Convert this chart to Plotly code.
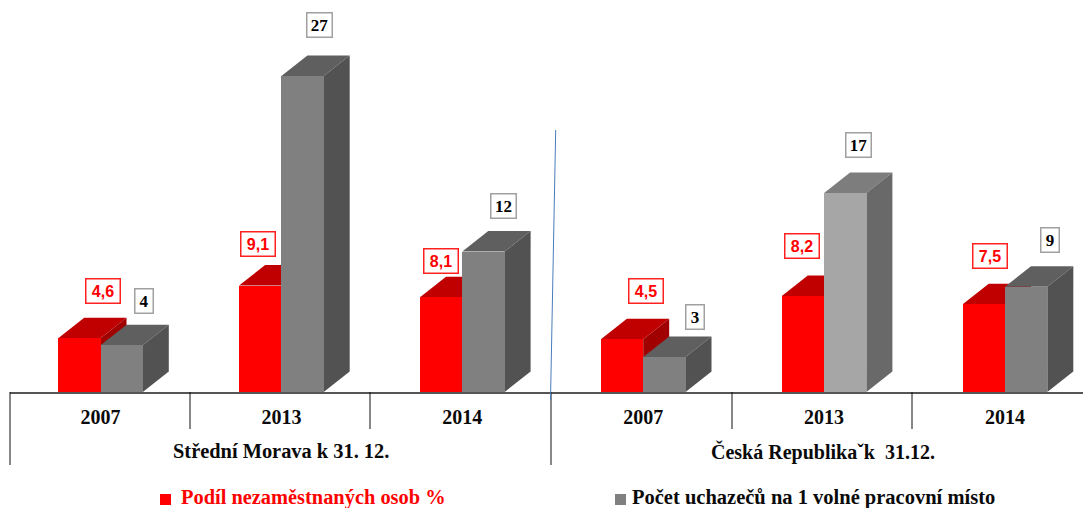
import plotly.graph_objects as go

years = ["2007", "2013", "2014", "2007", "2013", "2014"]
group_names = ["Střední Morava k 31. 12.", "Česká Republikaˇk  31.12."]
series_names = ["Podíl nezaměstnaných osob %", "Počet uchazečů na 1 volné pracovní místo"]
unemployment = [4.6, 9.1, 8.1, 4.5, 8.2, 7.5]
applicants = [4, 27, 12, 3, 17, 9]

W, H = 1083, 508
AXIS_L, AXIS_Y = 10, 392
PX_PER_VALUE = 11.7
PX_PER_CAT = 180.9
FIRST_CENTER = 100.5
BAR_PX = 42.3
DEPTH_X, DEPTH_Y = 26, 20.5
SERIF = "Liberation Serif"
SANS = "Liberation Sans"

def xd(px):
    return (px - FIRST_CENTER) / PX_PER_CAT
def xp(px):
    return (px - AXIS_L) / (W - AXIS_L)
def yp(py):
    return (AXIS_Y - py) / AXIS_Y

bw = BAR_PX / PX_PER_CAT
dx = DEPTH_X / PX_PER_CAT
dy = DEPTH_Y / PX_PER_VALUE
xs = list(range(len(years)))

RED = dict(front="#ff0000", top="#c00000", side="#a00000")
GRAY = dict(front="#808080", top="#5f5f5f", side="#525252")
LIGHT = dict(front="#a6a6a6", top="#7d7d7d", side="#696969")
gray_styles = [GRAY, GRAY, GRAY, GRAY, LIGHT, GRAY]

shapes = []
def poly(points, color):
    path = "M " + " L ".join(f"{a},{b}" for a, b in points) + " Z"
    shapes.append(dict(type="path", path=path, xref="x", yref="y", layer="below",
                       fillcolor=color, line=dict(width=0)))

for i, v in enumerate(unemployment):
    a, b = i - bw, i
    poly([(a, v), (a + dx, v + dy), (b + dx, v + dy), (b, v)], RED["top"])
    poly([(b, 0), (b + dx, dy), (b + dx, v + dy), (b, v)], RED["side"])
for i, v in enumerate(applicants):
    a, b = i, i + bw
    st = gray_styles[i]
    poly([(a, v), (a + dx, v + dy), (b + dx, v + dy), (b, v)], st["top"])
    poly([(b, 0), (b + dx, dy), (b + dx, v + dy), (b, v)], st["side"])

fig = go.Figure()
fig.add_bar(x=xs, y=unemployment, width=bw, offset=-bw, name=series_names[0],
            marker=dict(color=RED["front"], line=dict(width=0)), showlegend=False)
fig.add_bar(x=xs, y=applicants, width=bw, offset=0, name=series_names[1],
            marker=dict(color=[s["front"] for s in gray_styles], line=dict(width=0)), showlegend=False)

def vline(px, top, bottom, color="#111111", width=1):
    shapes.append(dict(type="line", xref="paper", yref="paper", x0=xp(px), x1=xp(px),
                       y0=yp(top), y1=yp(bottom), line=dict(color=color, width=width)))

for px in (10, 551):
    vline(px, AXIS_Y, 465)
for px in (190, 370, 732, 912):
    vline(px, AXIS_Y, 429)
shapes.append(dict(type="line", xref="paper", yref="paper", x0=xp(555.7), x1=xp(550.5),
                   y0=yp(130), y1=yp(400), line=dict(color="#4a7ebb", width=1)))

annotations = []
def value_label(i, val, text, color, border, family, size, sx, sy, w):
    annotations.append(dict(x=i, y=val, xref="x", yref="y", text=text, showarrow=False,
                            xshift=sx, yshift=sy, width=w, height=19, align="center",
                            valign="middle",
                            font=dict(family=family, size=size, color=color, weight=700),
                            bordercolor=border, borderwidth=1.5, borderpad=2,
                            bgcolor="#ffffff"))

red_off = [(2, 46.7), (-23.5, 42), (-21.5, 36.7), (3, 48), (-22, 50.5), (-15, 48.7)]
gray_off = [(43.5, 44.7), (38, 51), (41.5, 45.6), (52, 40.4), (34.5, 48.5), (45, 47.2)]
for i, v in enumerate(unemployment):
    value_label(i, v, f"{v:.1f}".replace(".", ","), "#ff0000", "#ff2020", SANS, 16,
                red_off[i][0], red_off[i][1], 29)
for i, v in enumerate(applicants):
    value_label(i, v, str(v), "#000000", "#a0a0a0", SERIF, 17,
                gray_off[i][0], gray_off[i][1], 20 if v > 9 else 13)

def text_at(px, py, text, color, size, anchor="center"):
    annotations.append(dict(x=xp(px), y=yp(py), xref="paper", yref="paper", text=text,
                            showarrow=False, xanchor=anchor, yanchor="middle",
                            font=dict(family=SERIF, size=size, color=color, weight=700)))

text_at(280.5, 451, group_names[0], "#0a0a0a", 20.4)
text_at(822.5, 452, group_names[1], "#0a0a0a", 20)
text_at(179, 497, series_names[0], "#ff0000", 20.4, "left")
text_at(630, 497, series_names[1], "#0a0a0a", 20.5, "left")

def swatch(x0, color):
    shapes.append(dict(type="rect", xref="paper", yref="paper", x0=xp(x0), x1=xp(x0 + 11),
                       y0=yp(505), y1=yp(494), fillcolor=color, line=dict(width=0)))
swatch(160, "#ff0000")
swatch(615, "#808080")

fig.update_layout(
    width=W, height=H, autosize=False,
    margin=dict(l=AXIS_L, r=0, t=0, b=H - AXIS_Y, pad=0),
    plot_bgcolor="#ffffff", paper_bgcolor="#ffffff",
    shapes=shapes, annotations=annotations, bargap=0,
    xaxis=dict(range=[xd(AXIS_L), xd(W)], tickmode="array", tickvals=xs, ticktext=years,
               showgrid=False, zeroline=False, ticks="", showline=True,
               linecolor="#555555", linewidth=2, ticklabelstandoff=6,
               tickfont=dict(family=SERIF, size=20, color="#0a0a0a", weight=700)),
    yaxis=dict(range=[0, AXIS_Y / PX_PER_VALUE], visible=False),
)

fig.write_html("out.html", config=dict(displayModeBar=False),
               post_script="document.body.style.margin='0';document.body.style.overflow='hidden';")
